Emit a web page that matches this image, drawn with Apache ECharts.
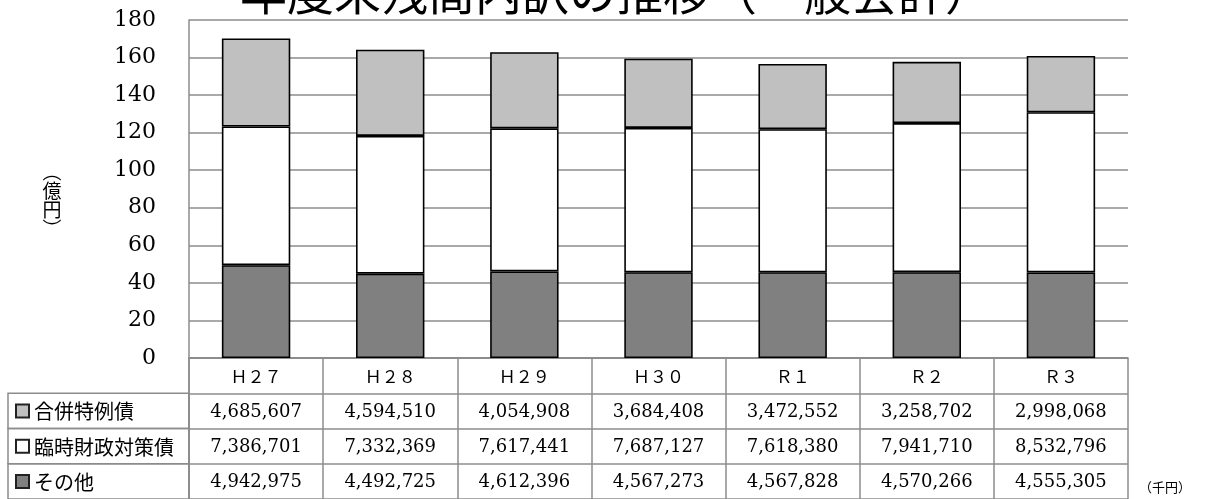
<!DOCTYPE html>
<html>
<head>
<meta charset="utf-8">
<script src="https://cdn.jsdelivr.net/npm/echarts@6/dist/echarts.min.js"></script>
<style>
  html, body { margin: 0; padding: 0; background: #fff; }
  #chart { width: 1208px; height: 499px; }
</style>
</head>
<body>
<div id="chart"></div>
<script>
// ---- data (千円) ----
const years = ['Ｈ２７', 'Ｈ２８', 'Ｈ２９', 'Ｈ３０', 'Ｒ１', 'Ｒ２', 'Ｒ３'];
const seriesNames = ['合併特例債', '臨時財政対策債', 'その他'];
const gappei = [4685607, 4594510, 4054908, 3684408, 3472552, 3258702, 2998068];
const rinji  = [7386701, 7332369, 7617441, 7687127, 7618380, 7941710, 8532796];
const sonota = [4942975, 4492725, 4612396, 4567273, 4567828, 4570266, 4555305];
const yTickValues = [0, 20, 40, 60, 80, 100, 120, 140, 160, 180];
const titleText = '年度末残高内訳の推移（一般会計）';
const axisName = '︵\n億\n円\n︶';
const unitLabel = '（千円）';

// ---- styling / layout ----
const PLOT_LEFT = 189, PLOT_WIDTH = 939, PLOT_TOP = 20, PLOT_HEIGHT = 338;
const ROW_H = 37, LABEL_LEFT = 8;
const GRID_COLOR = '#8c8c8c';
const SERIF = '"DejaVu Serif", "Liberation Serif", serif';
const JP = '"Noto Sans CJK JP", "Noto Sans", sans-serif';
const colors = { '合併特例債': '#c0c0c0', '臨時財政対策債': '#ffffff', 'その他': '#808080' };
const valuesByName = { '合併特例債': gappei, '臨時財政対策債': rinji, 'その他': sonota };

const toOku = v => v / 100000;           // 千円 -> 億円
const fmt = v => v.toLocaleString('en-US');

// stacked bars, bottom to top
const stackOrder = ['その他', '臨時財政対策債', '合併特例債'];
const barSeries = stackOrder.map(name => ({
  name: name,
  type: 'bar',
  stack: 'total',
  xAxisIndex: 0,
  yAxisIndex: 0,
  barWidth: '51%',
  data: valuesByName[name].map(toOku),
  itemStyle: { color: colors[name], borderColor: '#000', borderWidth: 1.6 },
  emphasis: { disabled: true }
}));

// table rows: header row + one per series
const tableRows = ['hdr'].concat(seriesNames);

// cells of the data table (header labels and values)
const cells = [];
years.forEach((y, c) => cells.push({ col: c, row: 'hdr', text: y, jp: true }));
seriesNames.forEach(name => {
  valuesByName[name].forEach((v, c) => cells.push({ col: c, row: name, text: fmt(v), jp: false }));
});

const cellSeries = {
  type: 'custom',
  xAxisIndex: 1,
  yAxisIndex: 1,
  silent: true,
  data: cells.map(d => [d.col, d.row]),
  renderItem: function (params, api) {
    const d = cells[params.dataIndex];
    const p = api.coord([d.col, d.row]);
    return {
      type: 'text',
      x: p[0], y: p[1] + 1,
      style: {
        text: d.text,
        textAlign: 'center',
        textVerticalAlign: 'middle',
        font: (d.jp ? '17px ' + JP : '18px ' + SERIF),
        fill: '#000'
      }
    };
  }
};

// left column: legend key + series name
const labelSeries = {
  type: 'custom',
  xAxisIndex: 1,
  yAxisIndex: 1,
  silent: true,
  data: seriesNames.map(n => [0, n]),
  renderItem: function (params, api) {
    const name = seriesNames[params.dataIndex];
    const p = api.coord([0, name]);
    const s = api.size([1, 1]);
    const x1 = p[0] - s[0] / 2;
    const top = p[1] - s[1] / 2;
    return {
      type: 'group',
      children: [
        { type: 'rect', shape: { x: LABEL_LEFT, y: top, width: x1 - LABEL_LEFT, height: s[1] },
          style: { fill: 'none', stroke: GRID_COLOR, lineWidth: 1.5 } },
        { type: 'rect', shape: { x: LABEL_LEFT + 8, y: p[1] - 6.5, width: 13, height: 13 },
          style: { fill: colors[name], stroke: '#222', lineWidth: 2 } },
        { type: 'text', x: LABEL_LEFT + 26, y: p[1] + 1,
          style: { text: name, textAlign: 'left', textVerticalAlign: 'middle',
                   font: '20px ' + JP, fill: '#000' } }
      ]
    };
  }
};

const chart = echarts.init(document.getElementById('chart'), null, { renderer: 'canvas' });
chart.setOption({
  animation: false,
  backgroundColor: '#fff',
  grid: [
    { left: PLOT_LEFT, top: PLOT_TOP, width: PLOT_WIDTH, height: PLOT_HEIGHT },
    { left: PLOT_LEFT, top: PLOT_TOP + PLOT_HEIGHT, width: PLOT_WIDTH, height: ROW_H * tableRows.length }
  ],
  xAxis: [
    { type: 'category', gridIndex: 0, data: years,
      axisLine: { show: true, lineStyle: { color: GRID_COLOR, width: 1.5 } },
      axisTick: { show: false }, axisLabel: { show: false }, splitLine: { show: false } },
    { type: 'category', gridIndex: 1, data: years,
      axisLine: { show: false }, axisTick: { show: false }, axisLabel: { show: false },
      splitLine: { show: true, interval: 0, lineStyle: { color: GRID_COLOR, width: 1.5 } } }
  ],
  yAxis: [
    { type: 'value', gridIndex: 0,
      min: yTickValues[0], max: yTickValues[yTickValues.length - 1],
      interval: yTickValues[1] - yTickValues[0],
      axisLine: { show: true, lineStyle: { color: GRID_COLOR, width: 1.5 } },
      axisTick: { show: false },
      axisLabel: { margin: 33, fontSize: 22, fontFamily: SERIF, color: '#000' },
      splitLine: { show: true, lineStyle: { color: GRID_COLOR, width: 1.5 } } },
    { type: 'category', gridIndex: 1, data: tableRows, inverse: true,
      axisLine: { show: true, lineStyle: { color: GRID_COLOR, width: 1.5 } },
      axisTick: { show: false }, axisLabel: { show: false },
      splitLine: { show: true, interval: 0, lineStyle: { color: GRID_COLOR, width: 1.5 } } }
  ],
  graphic: [
    // chart title, partly above the canvas edge
    { type: 'text', x: 240, y: 16, z: 10,
      style: { text: titleText, textVerticalAlign: 'bottom', textAlign: 'left',
               font: '47px ' + JP, fill: '#000' } },
    // vertical y-axis unit
    { type: 'text', x: 52, y: 200,
      style: { text: axisName, textAlign: 'center', textVerticalAlign: 'middle',
               font: '19px ' + JP, lineHeight: 19, fill: '#000' } },
    { type: 'text', x: 1139, y: 487,
      style: { text: unitLabel, textAlign: 'left', textVerticalAlign: 'middle',
               font: '13px ' + JP, fill: '#000' } }
  ],
  series: barSeries.concat([cellSeries, labelSeries])
});
</script>
</body>
</html>
